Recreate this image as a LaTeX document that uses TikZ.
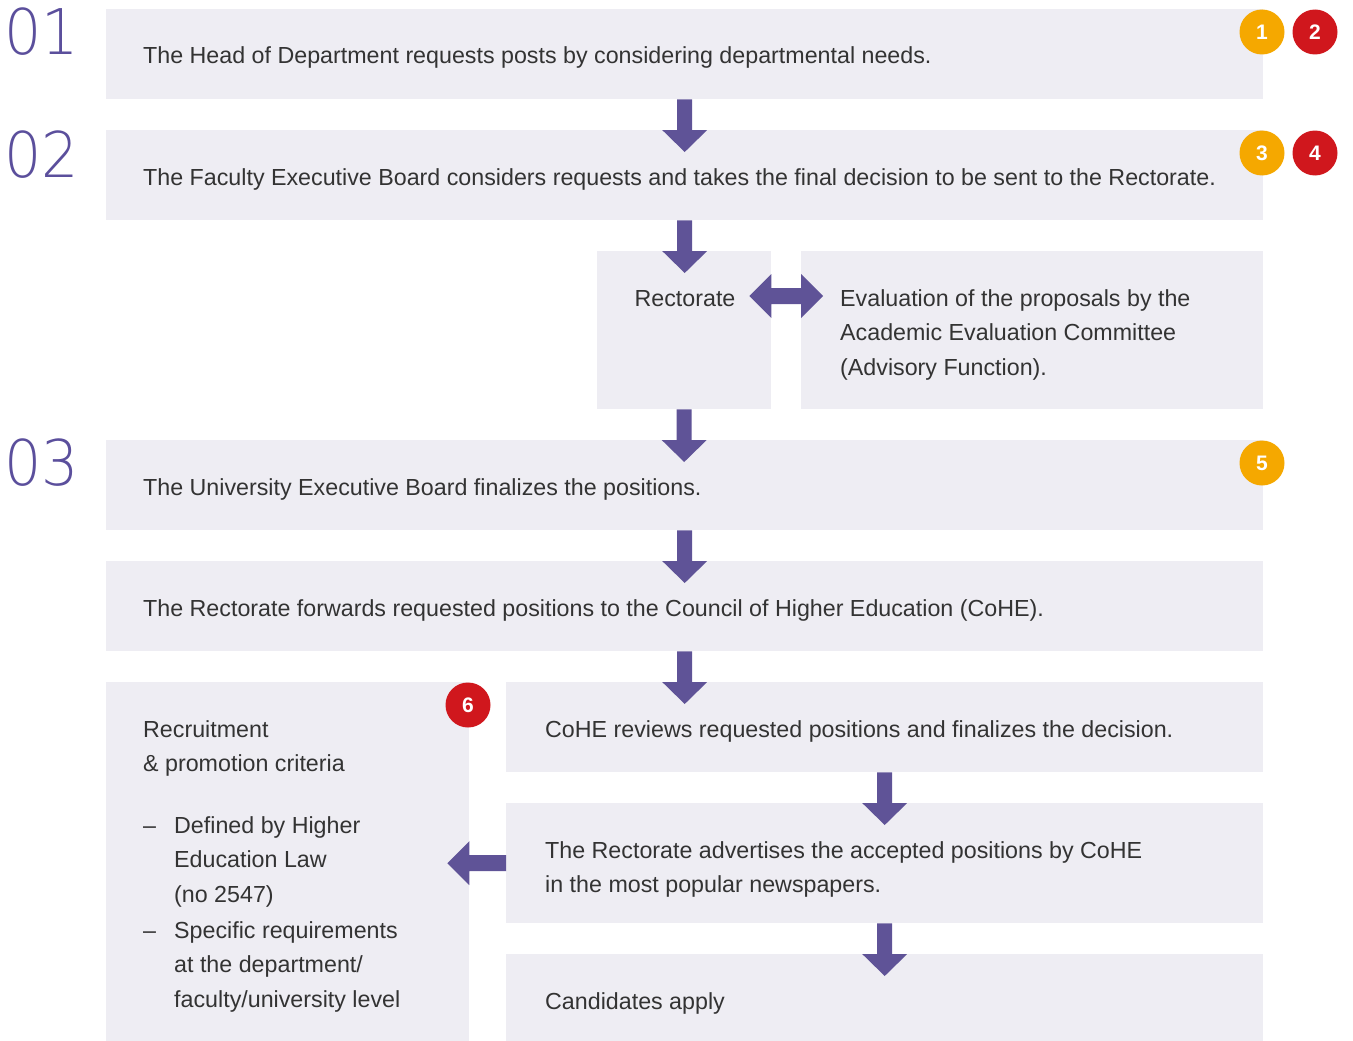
\documentclass[tikz,border=0pt]{standalone}
\usepackage{fontspec}
\setmainfont{Liberation Sans}
\newfontfamily\thinfont{DejaVu Sans ExtraLight}
\usetikzlibrary{calc}
\definecolor{boxc}{HTML}{EEEDF3}
\definecolor{arrc}{HTML}{5F5397}
\definecolor{numc}{HTML}{5B4F9C}
\definecolor{textc}{HTML}{333333}
\definecolor{orangec}{HTML}{F5A800}
\definecolor{redc}{HTML}{D0171D}
\tikzset{
  box/.style={fill=boxc, draw=none, anchor=north west, inner sep=0pt},
  txt/.style={anchor=base west, inner sep=0pt, text=textc, font=\fontsize{23.25}{34.7}\selectfont},
  mtxt/.style={anchor=north west, inner sep=0pt, align=left, text=textc, font=\fontsize{23.25}{34.7}\selectfont},
  num/.style={anchor=base west, inner sep=0pt, text=numc, xscale=0.93, font=\thinfont\fontsize{63}{63}\selectfont},
  badge/.style={circle, minimum size=45pt, inner sep=0pt, text=white, font=\bfseries\fontsize{21}{21}\selectfont},
  arrowfill/.style={fill=arrc, draw=none}
}
\newcommand\vArrow[2]{%
  \fill[arrowfill] let \p1=(#1.south), \p2=(#2.north) in
    (\x1-7.5pt,\y1) -- (\x1-7.5pt,\y2) -- (\x1-22.5pt,\y2) -- (\x1,\y2-22pt)
    -- (\x1+22.5pt,\y2) -- (\x1+7.5pt,\y2) -- (\x1+7.5pt,\y1) -- cycle;}
\begin{document}
\begin{tikzpicture}[x=1pt,y=-1pt]
\useasboundingbox (0,0) rectangle (1353,1041);
% boxes
\node[box, minimum width=1157pt, minimum height=90pt] (b1) at (106,9) {};
\node[box, minimum width=1157pt, minimum height=90pt] (b2) at (106,130) {};
\node[box, minimum width=174pt, minimum height=158pt] (rect) at (597,251) {};
\node[box, minimum width=462pt, minimum height=158pt] (eval) at (801,251) {};
\node[box, minimum width=1157pt, minimum height=90pt] (b3) at (106,440) {};
\node[box, minimum width=1157pt, minimum height=90pt] (b4) at (106,561) {};
\node[box, minimum width=363pt, minimum height=359pt] (crit) at (106,682) {};
\node[box, minimum width=757pt, minimum height=90pt] (cohe) at (506,682) {};
\node[box, minimum width=757pt, minimum height=120pt] (adv) at (506,803) {};
\node[box, minimum width=757pt, minimum height=87pt] (cand) at (506,954) {};
% arrows
\vArrow{b1}{b2}
\vArrow{b2}{rect}
\vArrow{rect}{b3}
\vArrow{b3}{b4}
\vArrow{b4}{cohe}
\vArrow{cohe}{adv}
\vArrow{adv}{cand}
\fill[arrowfill] let \p1=($(rect.north east)+(0,45)$), \p2=(eval.north west) in
  (\x1-22pt,\y1) -- (\x1,\y1+22pt) -- (\x1,\y1+8pt) -- (\x2,\y1+8pt) -- (\x2,\y1+22pt)
  -- (\x2+22pt,\y1) -- (\x2,\y1-22pt) -- (\x2,\y1-8pt) -- (\x1,\y1-8pt) -- (\x1,\y1-22pt) -- cycle;
\fill[arrowfill] let \p1=(adv.west), \p2=(crit.east) in
  (\x1,\y1+8pt) -- (\x2,\y1+8pt) -- (\x2,\y1+22pt) -- (\x2-22pt,\y1) -- (\x2,\y1-22pt)
  -- (\x2,\y1-8pt) -- (\x1,\y1-8pt) -- cycle;
% step numbers
\node[num] (n1) at (4,55) {01};
\node[num] (n2) at (4,177) {02};
\node[num] (n3) at (4,485) {03};
% texts
\node[txt] (t1) at (143,64) {The Head of Department requests posts by considering departmental needs.};
\node[txt] (t2) at (143,185) {The Faculty Executive Board considers requests and takes the final decision to be sent to the Rectorate.};
\node[txt, anchor=base] (trect) at (685,306) {Rectorate};
\node[mtxt] (teval) at (840,289) {Evaluation of the proposals by the\\Academic Evaluation Committee\\(Advisory Function).};
\node[txt] (t3) at (143,495) {The University Executive Board finalizes the positions.};
\node[txt] (t4) at (143,616) {The Rectorate forwards requested positions to the Council of Higher Education (CoHE).};
\node[mtxt] (tcrit) at (143,720) {Recruitment\\\& promotion criteria};
\node[txt] (d1) at (143,833) {–};
\node[mtxt] (tl1) at (174,816) {Defined by Higher\\Education Law\\(no 2547)};
\node[txt] (d2) at (143,938) {–};
\node[mtxt] (tl2) at (174,921) {Specific requirements\\at the department/\\faculty/university level};
\node[txt] (tcohe) at (545,737) {CoHE reviews requested positions and finalizes the decision.};
\node[mtxt] (tadv) at (545,841) {The Rectorate advertises the accepted positions by CoHE\\in the most popular newspapers.};
\node[txt] (tcand) at (545,1009) {Candidates apply};
% badges
\node[badge, fill=orangec] (bd1) at (1262,32) {1};
\node[badge, fill=redc] (bd2) at (1315,32) {2};
\node[badge, fill=orangec] (bd3) at (1262,153) {3};
\node[badge, fill=redc] (bd4) at (1315,153) {4};
\node[badge, fill=orangec] (bd5) at (1262,463) {5};
\node[badge, fill=redc] (bd6) at (468,705) {6};
\end{tikzpicture}
\end{document}
